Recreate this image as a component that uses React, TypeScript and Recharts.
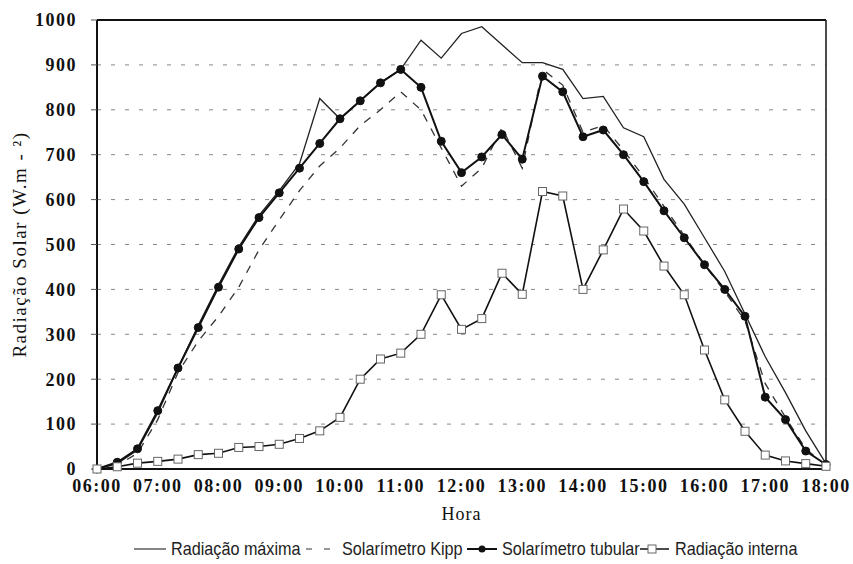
import React from 'react';
import { LineChart, Line, XAxis, YAxis, CartesianGrid, ReferenceLine } from 'recharts';

// 20-minute readings, 06:00 to 18:00
const horas = [
  '06:00', '06:20', '06:40', '07:00', '07:20', '07:40', '08:00', '08:20', '08:40',
  '09:00', '09:20', '09:40', '10:00', '10:20', '10:40', '11:00', '11:20', '11:40',
  '12:00', '12:20', '12:40', '13:00', '13:20', '13:40', '14:00', '14:20', '14:40',
  '15:00', '15:20', '15:40', '16:00', '16:20', '16:40', '17:00', '17:20', '17:40', '18:00',
];

const radiacaoMaxima = [
  0, 12, 42, 125, 225, 320, 410, 495, 565,
  620, 680, 825, 780, 820, 860, 890, 955, 915,
  970, 985, 945, 905, 905, 890, 825, 830, 760,
  740, 645, 590, 515, 440, 345, 250, 170, 85, 12,
];

const solarimetroKipp = [
  0, 8, 35, 110, 215, 285, 340, 405, 488,
  555, 620, 675, 715, 765, 800, 840, 800, 715,
  630, 670, 760, 670, 890, 855, 750, 765, 710,
  650, 585, 520, 455, 395, 330, 190, 115, 45, 8,
];

const solarimetroTubular = [
  0, 15, 45, 130, 225, 315, 405, 490, 560,
  615, 670, 725, 780, 820, 860, 890, 850, 730,
  660, 695, 745, 690, 875, 840, 740, 755, 700,
  640, 575, 515, 455, 400, 340, 160, 110, 40, 10,
];

const radiacaoInterna = [
  0, 5, 13, 17, 22, 32, 35, 48, 50,
  55, 68, 85, 115, 200, 245, 258, 300, 388,
  311, 335, 436, 389, 618, 608, 400, 488, 579,
  530, 452, 388, 265, 154, 84, 31, 18, 12, 6,
];

const xTicks = ['06:00', '07:00', '08:00', '09:00', '10:00', '11:00', '12:00', '13:00', '14:00', '15:00', '16:00', '17:00', '18:00'];
const yTicks = [0, 100, 200, 300, 400, 500, 600, 700, 800, 900, 1000];

const toHours = (t: string) => {
  const [h, m] = t.split(':').map(Number);
  return h + m / 60;
};

const data = horas.map((t, i) => ({
  h: toHours(t),
  maxima: radiacaoMaxima[i],
  kipp: solarimetroKipp[i],
  tubular: solarimetroTubular[i],
  interna: radiacaoInterna[i],
}));

const serif = '"Liberation Serif", "Times New Roman", serif';
const sans = '"Liberation Sans", Arial, sans-serif';

const tickStyle = { fontFamily: serif, fontWeight: 'bold', fontSize: 18, fill: '#111', letterSpacing: 1.5 };

const SquareDot = (props: any) => {
  const { cx, cy } = props;
  if (cx == null || cy == null) return null;
  return <rect x={cx - 4} y={cy - 4} width={8} height={8} fill="#fff" stroke="#666" strokeWidth={1} />;
};

const CircleDot = (props: any) => {
  const { cx, cy } = props;
  if (cx == null || cy == null) return null;
  return <circle cx={cx} cy={cy} r={4} fill="#111" stroke="#111" />;
};

const YTitle = (props: any) => {
  const vb = props.viewBox || {};
  const cx = 22;
  const cy = (vb.y ?? 20) + (vb.height ?? 449) / 2;
  return (
    <text x={cx} y={cy} transform={`rotate(-90, ${cx}, ${cy})`} textAnchor="middle" dominantBaseline="middle"
      style={{ fontFamily: serif, fontSize: 19, fill: '#111', letterSpacing: 1.5 }}>
      Radiação Solar (W.m - ²)
    </text>
  );
};

// legend text is a slightly condensed sans in the source
const LegText = ({ x, children }: { x: number; children: string }) => (
  <text x={0} y={0} transform={`translate(${x}, 17) scale(0.9, 1)`}
    style={{ fontFamily: sans, fontSize: 18, fill: '#222' }}>
    {children}
  </text>
);

const Legenda = () => (
  <svg width={853} height={24} style={{ position: 'absolute', left: 0, top: 538 }}>
    <line x1={134} y1={11} x2={166} y2={11} stroke="#333" strokeWidth={1.2} />
    <LegText x={171}>Radiação máxima</LegText>
    <line x1={306} y1={11} x2={330} y2={11} stroke="#333" strokeWidth={1.2} strokeDasharray="6 12" />
    <LegText x={342}>Solarímetro Kipp</LegText>
    <line x1={467} y1={11} x2={497} y2={11} stroke="#111" strokeWidth={2} />
    <circle cx={482} cy={11} r={3.5} fill="#111" />
    <LegText x={502}>Solarímetro tubular</LegText>
    <line x1={640} y1={11} x2={669} y2={11} stroke="#111" strokeWidth={1.5} />
    <rect x={648} y={7} width={8} height={8} fill="#fff" stroke="#666" />
    <LegText x={675}>Radiação interna</LegText>
  </svg>
);

export default function App() {
  return (
    <div style={{ position: 'absolute', left: 0, top: 0, width: 853, height: 564, background: '#fff' }}>
      <LineChart width={853} height={564} data={data} margin={{ top: 20, right: 27, left: 0, bottom: 0 }}>
        <CartesianGrid vertical={false} stroke="#888" strokeDasharray="4 10" />
        <XAxis
          dataKey="h"
          type="number"
          domain={[6, 18]}
          ticks={xTicks.map(toHours)}
          tickFormatter={(v: number) => xTicks[Math.round(v) - 6]}
          height={95}
          tick={tickStyle}
          tickSize={0}
          tickMargin={10}
          axisLine={{ stroke: '#111', strokeWidth: 2 }}
          interval={0}
          label={{ value: 'Hora', position: 'insideTop', offset: 38, style: { fontFamily: serif, fontSize: 18, fill: '#111', letterSpacing: 1 } }}
        />
        <YAxis
          type="number"
          domain={[0, 1000]}
          ticks={yTicks}
          width={97}
          tick={tickStyle}
          tickSize={6}
          tickMargin={14}
          tickLine={{ stroke: '#555' }}
          axisLine={{ stroke: '#111', strokeWidth: 2 }}
          interval={0}
          label={<YTitle />}
        />
        <ReferenceLine y={1000} stroke="#111" strokeWidth={2} />
        <ReferenceLine x={18} stroke="#111" strokeWidth={1.5} />
        <Line type="linear" dataKey="maxima" stroke="#222" strokeWidth={1.3} dot={false} isAnimationActive={false} />
        <Line type="linear" dataKey="kipp" stroke="#333" strokeWidth={1.3} strokeDasharray="8 8" dot={false} isAnimationActive={false} />
        <Line type="linear" dataKey="tubular" stroke="#111" strokeWidth={2} dot={<CircleDot />} isAnimationActive={false} />
        <Line type="linear" dataKey="interna" stroke="#111" strokeWidth={1.6} dot={<SquareDot />} isAnimationActive={false} />
      </LineChart>
      <Legenda />
    </div>
  );
}
